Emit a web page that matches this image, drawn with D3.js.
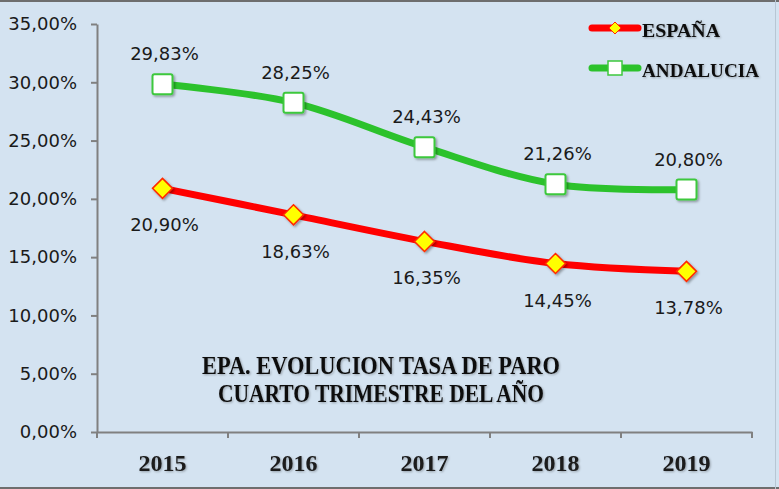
<!DOCTYPE html>
<html>
<head>
<meta charset="utf-8">
<script src="https://cdn.jsdelivr.net/npm/d3@7"></script>
<style>
  body { margin: 0; background: #d4e3f1; }
  svg { display: block; }
</style>
</head>
<body>
<div id="chart"></div>
<script>
// Data
const years = ['2015', '2016', '2017', '2018', '2019'];
const espana = [20.90, 18.63, 16.35, 14.45, 13.78];
const andalucia = [29.83, 28.25, 24.43, 21.26, 20.80];
const yTicks = [0, 5, 10, 15, 20, 25, 30, 35];
const titleLines = ['EPA. EVOLUCION TASA DE PARO', 'CUARTO TRIMESTRE DEL AÑO'];

const width = 779;
const height = 489;

const fmt = v => v.toFixed(2).replace('.', ',') + '%';

const svg = d3.select('#chart')
    .append('svg')
    .attr('width', width)
    .attr('height', height);

// shadow for markers
const defs = svg.append('defs');
const shadow = defs.append('filter').attr('id', 'shadow')
    .attr('x', '-50%').attr('y', '-50%').attr('width', '200%').attr('height', '200%');
shadow.append('feDropShadow')
    .attr('dx', 1.5).attr('dy', 1.5).attr('stdDeviation', 1.2)
    .attr('flood-color', '#000').attr('flood-opacity', 0.35);
const textShadow = defs.append('filter').attr('id', 'tshadow');
textShadow.append('feDropShadow')
    .attr('dx', 1).attr('dy', 1).attr('stdDeviation', 0.8)
    .attr('flood-color', '#000').attr('flood-opacity', 0.3);

// background + frame
svg.append('rect').attr('width', width).attr('height', height).attr('fill', '#d4e3f1');
svg.append('line').attr('x1', 0).attr('x2', width).attr('y1', 1).attr('y2', 1)
    .attr('stroke', '#6e6e6e').attr('stroke-width', 2);
svg.append('line').attr('x1', 0).attr('x2', width).attr('y1', 488).attr('y2', 488)
    .attr('stroke', '#6e6e6e').attr('stroke-width', 2);
svg.append('line').attr('x1', 775.5).attr('x2', 775.5).attr('y1', 0).attr('y2', height)
    .attr('stroke', '#b8c6d4').attr('stroke-width', 1);

// Scales
const x = d3.scaleBand().domain(years).range([97, 752]).padding(0);
const y = d3.scaleLinear().domain([0, 35]).range([432, 24]);
const cx = d => x(d) + x.bandwidth() / 2;

// Y axis
const yAxis = svg.append('g')
    .attr('transform', 'translate(97,0)')
    .call(d3.axisLeft(y).tickValues(yTicks).tickSize(6).tickSizeOuter(0).tickFormat(fmt).tickPadding(14));
yAxis.select('.domain').attr('stroke', '#808080').attr('stroke-width', 2);
yAxis.selectAll('.tick line').attr('stroke', '#808080').attr('stroke-width', 2);
yAxis.selectAll('.tick text')
    .attr('font-family', '"DejaVu Sans", Verdana, sans-serif')
    .attr('font-size', 18)
    .attr('fill', '#1a1a1a');

// X axis
const xAxis = svg.append('g')
    .attr('transform', 'translate(0,432)')
    .call(d3.axisBottom(x).tickSize(0).tickPadding(22));
xAxis.select('.domain').attr('stroke', '#808080').attr('stroke-width', 2);
xAxis.selectAll('.tick text')
    .attr('font-family', '"Liberation Serif", serif')
    .attr('font-weight', 'bold')
    .attr('font-size', 24)
    .attr('fill', '#1a1a1a')
    .attr('filter', 'url(#tshadow)');
// category boundary ticks
const bounds = years.map(d => x(d)).concat([x(years[years.length - 1]) + x.bandwidth()]);
svg.append('g').selectAll('line').data(bounds).join('line')
    .attr('x1', d => d).attr('x2', d => d)
    .attr('y1', 432).attr('y2', 438)
    .attr('stroke', '#808080').attr('stroke-width', 2);

// Lines
const line = d3.line()
    .x((d, i) => cx(years[i]))
    .y(d => y(d))
    .curve(d3.curveCatmullRom.alpha(0.5));

svg.append('path').datum(andalucia)
    .attr('d', line).attr('fill', 'none')
    .attr('stroke', '#2cc22c').attr('stroke-width', 7);
svg.append('path').datum(espana)
    .attr('d', line).attr('fill', 'none')
    .attr('stroke', '#ff0000').attr('stroke-width', 7);

// Markers
function square(g, px, py) {
    g.append('rect')
        .attr('x', px - 10).attr('y', py - 10)
        .attr('width', 20).attr('height', 20)
        .attr('rx', 2)
        .attr('fill', '#ffffff').attr('stroke', '#3cc83c').attr('stroke-width', 2)
        .attr('filter', 'url(#shadow)');
}
function diamond(g, px, py) {
    g.append('path')
        .attr('d', `M${px},${py - 10}L${px + 10},${py}L${px},${py + 10}L${px - 10},${py}Z`)
        .attr('fill', '#ffff00').attr('stroke', '#ff2a00').attr('stroke-width', 1.5)
        .attr('filter', 'url(#shadow)');
}

const markers = svg.append('g');
andalucia.forEach((v, i) => square(markers, cx(years[i]), y(v)));
espana.forEach((v, i) => diamond(markers, cx(years[i]), y(v)));

// Data labels
const labelFont = '"DejaVu Sans", Verdana, sans-serif';
svg.append('g').selectAll('text').data(andalucia).join('text')
    .attr('x', (d, i) => cx(years[i]) + 2)
    .attr('y', d => y(d) - 24)
    .attr('text-anchor', 'middle')
    .attr('font-family', labelFont)
    .attr('font-size', 18)
    .attr('fill', '#1a1a1a')
    .text(fmt);
svg.append('g').selectAll('text').data(espana).join('text')
    .attr('x', (d, i) => cx(years[i]) + 2)
    .attr('y', d => y(d) + 43)
    .attr('text-anchor', 'middle')
    .attr('font-family', labelFont)
    .attr('font-size', 18)
    .attr('fill', '#1a1a1a')
    .text(fmt);

// Legend
const legend = svg.append('g');
const legendItems = [
    { name: 'ESPAÑA', color: '#ff0000', y: 28, marker: diamond, len: 78 },
    { name: 'ANDALUCIA', color: '#2cc22c', y: 68, marker: square, len: 117 }
];
legendItems.forEach(item => {
    legend.append('line')
        .attr('x1', 592).attr('x2', 638)
        .attr('y1', item.y).attr('y2', item.y)
        .attr('stroke', item.color).attr('stroke-width', 7)
        .attr('stroke-linecap', 'round');
    if (item.marker === diamond) {
        legend.append('path')
            .attr('d', `M615,${item.y - 6}L621,${item.y}L615,${item.y + 6}L609,${item.y}Z`)
            .attr('fill', '#ffff00').attr('stroke', '#ff2a00').attr('stroke-width', 1);
    } else {
        legend.append('rect')
            .attr('x', 608).attr('y', item.y - 7)
            .attr('width', 14).attr('height', 14)
            .attr('fill', '#ffffff').attr('stroke', '#3cc83c').attr('stroke-width', 1.5);
    }
    legend.append('text')
        .attr('x', 642).attr('y', item.y + 9)
        .attr('font-family', '"Liberation Serif", serif')
        .attr('font-weight', 'bold')
        .attr('font-size', 19)
        .attr('textLength', item.len)
        .attr('lengthAdjust', 'spacingAndGlyphs')
        .attr('fill', '#111')
        .attr('filter', 'url(#tshadow)')
        .text(item.name);
});

// Title inside plot
const titleWidths = [358, 326];
svg.append('g').selectAll('text').data(titleLines).join('text')
    .attr('x', 381)
    .attr('y', (d, i) => 374 + i * 28)
    .attr('text-anchor', 'middle')
    .attr('font-family', '"Liberation Serif", serif')
    .attr('font-weight', 'bold')
    .attr('font-size', 25)
    .attr('textLength', (d, i) => titleWidths[i])
    .attr('lengthAdjust', 'spacingAndGlyphs')
    .attr('fill', '#111')
    .attr('filter', 'url(#tshadow)')
    .text(d => d);
</script>
</body>
</html>
